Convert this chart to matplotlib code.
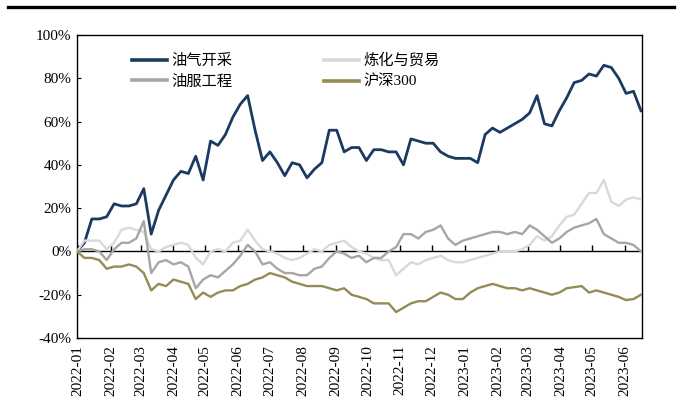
import matplotlib
matplotlib.use("Agg")
import matplotlib.pyplot as plt
import matplotlib.dates as mdates
from matplotlib.lines import Line2D
import pandas as pd

plt.rcParams['font.family'] = ['Liberation Serif', 'Noto Sans CJK SC', 'DejaVu Sans']

# weekly observation dates (Fridays)
dates = pd.date_range("2021-12-31", "2023-06-16", freq="7D")

oil_gas = [0, 4, 15, 15, 16, 22, 21, 21, 22, 29, 8, 19, 26, 33, 37, 36, 44, 33, 51, 49,
           54, 62, 68, 72, 56, 42, 46, 41, 35, 41, 40, 34, 38, 41, 56, 56, 46, 48, 48, 42,
           47, 47, 46, 46, 40, 52, 51, 50, 50, 46, 44, 43, 43, 43, 41, 54, 57, 55, 57, 59,
           61, 64, 72, 59, 58, 65, 71, 78, 79, 82, 81, 86, 85, 80, 73, 74, 65]

refining = [0, 5, 5, 5, 1, 4, 10, 11, 10, 9, 1, 0, 2, 3, 4, 3, -3, -6, 0, 1,
            0, 4, 5, 10, 5, 1, 0, -1, -3, -4, -3, -1, 1, 0, 3, 4, 5, 2, 0, -1,
            -3, -4, -4, -11, -8, -5, -6, -4, -3, -2, -4, -5, -5, -4, -3, -2, -1, 0, 0, 0,
            1, 3, 7, 5, 7, 12, 16, 17, 22, 27, 27, 33, 23, 21, 24, 25, 24]

oil_service = [0, 1, 1, 0, -4, 1, 4, 4, 6, 14, -10, -5, -4, -6, -5, -7, -17, -13, -11, -12,
               -9, -6, -2, 3, 0, -6, -5, -8, -10, -10, -11, -11, -8, -7, -3, 0, -1, -3, -2, -5,
               -3, -3, 0, 2, 8, 8, 6, 9, 10, 12, 6, 3, 5, 6, 7, 8, 9, 9, 8, 9,
               8, 12, 10, 7, 4, 6, 9, 11, 12, 13, 15, 8, 6, 4, 4, 3, 0]

hs300 = [0, -3, -3, -4, -8, -7, -7, -6, -7, -10, -18, -15, -16, -13, -14, -15, -22, -19, -21, -19,
         -18, -18, -16, -15, -13, -12, -10, -11, -12, -14, -15, -16, -16, -16, -17, -18, -17, -20, -21, -22,
         -24, -24, -24, -28, -26, -24, -23, -23, -21, -19, -20, -22, -22, -19, -17, -16, -15, -16, -17, -17,
         -18, -17, -18, -19, -20, -19, -17, -16.5, -16, -19, -18, -19, -20, -21, -22.5, -22, -20]

names = ["油气开采", "炼化与贸易", "油服工程", "沪深300"]
colors = ["#1B3A62", "#D9D9D9", "#A6A6A6", "#958B55"]
widths = [2.0, 1.7, 1.7, 1.7]

fig = plt.figure(figsize=(6.8, 4.2), dpi=100)
ax = fig.add_axes([77/680, 82/420, 565/680, 303/420])

# top rule
fig.add_artist(Line2D([8/680, 674/680], [1 - 7/420, 1 - 7/420], color="black", lw=2.4,
                      transform=fig.transFigure))

series = [oil_gas, refining, oil_service, hs300]
lines = {}
for name, vals, c, w in zip(names, series, colors, widths):
    (ln,) = ax.plot(dates, [v / 100 for v in vals], color=c, lw=w, zorder=3,
                    solid_joinstyle="round")
    lines[name] = ln

# zero line with month ticks
ax.axhline(0, color="black", lw=1.0, zorder=2)
month_ticks = pd.date_range("2022-01-01", "2023-06-01", freq="MS")
ax.plot(month_ticks, [0] * len(month_ticks), linestyle="none", marker=2, markersize=4,
        color="black", markeredgewidth=1.0, zorder=2)

ax.set_xlim(pd.Timestamp("2021-12-31"), pd.Timestamp("2023-06-17"))
ax.set_ylim(-0.4, 1.0)
ax.set_yticks([-0.4, -0.2, 0, 0.2, 0.4, 0.6, 0.8, 1.0])
ax.set_yticklabels(["-40%", "-20%", "0%", "20%", "40%", "60%", "80%", "100%"])
ax.xaxis.set_major_locator(mdates.MonthLocator())
ax.xaxis.set_major_formatter(mdates.DateFormatter("%Y-%m"))
ax.tick_params(axis="x", length=0, labelsize=11, rotation=90, pad=5)
ax.tick_params(axis="y", direction="in", length=3, labelsize=11, pad=4)
for lab in ax.get_xticklabels() + ax.get_yticklabels():
    lab.set_family(["Liberation Serif", "DejaVu Serif"])
for s in ax.spines.values():
    s.set_linewidth(1.0)
    s.set_color("black")

handles = [lines["油气开采"], lines["油服工程"], lines["炼化与贸易"], lines["沪深300"]]
labels = ["油气开采", "油服工程", "炼化与贸易", "沪深300"]
leg = ax.legend(handles, labels, ncol=2, loc="upper left", bbox_to_anchor=(0.097, 0.94),
                frameon=False, handlelength=2.3, handletextpad=0.3,
                columnspacing=6.0, labelspacing=0.45, borderpad=0, borderaxespad=0,
                prop={"family": ["Liberation Serif", "Noto Sans CJK SC"], "size": 11})
for h in leg.get_lines():
    h.set_linewidth(2.6)

fig.savefig("out.png", dpi=100, facecolor="white")
